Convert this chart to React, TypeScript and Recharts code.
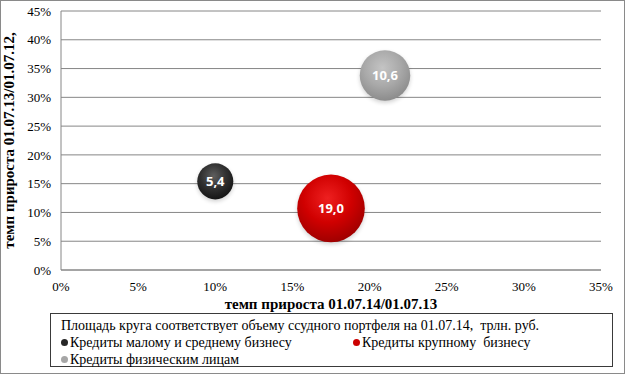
import React from "react"
import {
  ScatterChart,
  Scatter,
  XAxis,
  YAxis,
  ZAxis,
  CartesianGrid,
} from "recharts"

const categories = [
  "Кредиты малому и среднему бизнесу",
  "Кредиты крупному  бизнесу",
  "Кредиты физическим лицам",
]
// темп прироста 01.07.14/01.07.13, %
const growthX = [10.0, 17.5, 21.0]
// темп прироста 01.07.13/01.07.12, %
const growthY = [15.4, 10.7, 33.8]
// объем ссудного портфеля на 01.07.14, трлн. руб.
const volume = [5.4, 19.0, 10.6]
const xTicks = [0, 5, 10, 15, 20, 25, 30, 35]
const yTicks = [0, 5, 10, 15, 20, 25, 30, 35, 40, 45]

const colors = [
  { id: "gDark", light: "#5e5e5e", mid: "#303030", dark: "#151515", dot: "#262626" },
  { id: "gRed", light: "#ee2020", mid: "#d00000", dark: "#a00000", dot: "#cc0000" },
  { id: "gGrey", light: "#c4c4c4", mid: "#a9a9a9", dark: "#8c8c8c", dot: "#a6a6a6" },
]

const serif = '"Liberation Serif", "Times New Roman", serif'

const fmt = (v: number) => v.toFixed(1).replace(".", ",")

function Bubble(props: any) {
  const { cx, cy, width, payload, gid } = props
  const r = width / 2
  return (
    <g>
      <circle cx={cx} cy={cy + 2} r={r} fill="#000" opacity={0.18} filter="url(#blur)" />
      <circle cx={cx} cy={cy} r={r} fill={`url(#${gid})`} />
      <text
        x={cx}
        y={cy}
        dy="0.35em"
        textAnchor="middle"
        fill="#fff"
        fontFamily='"Open Sans", "DejaVu Sans", sans-serif'
        fontWeight={700}
        fontSize={13}
      >
        {fmt(payload.z)}
      </text>
    </g>
  )
}

function LegendDot({ color }: { color: string }) {
  return (
    <span
      style={{
        display: "inline-block",
        width: 7,
        height: 7,
        borderRadius: "50%",
        background: color,
        marginRight: 2,
        verticalAlign: "1px",
      }}
    />
  )
}

export default function App() {
  const series = categories.map((name, i) => ({
    name,
    data: [{ x: growthX[i], y: growthY[i], z: volume[i] }],
  }))

  return (
    <div
      style={{
        position: "absolute",
        left: 0,
        top: 0,
        width: 623,
        height: 372,
        border: "1px solid #8a8a8a",
        background: "#fff",
        fontFamily: serif,
      }}
    >
      <div style={{ position: "absolute", left: -1, top: -1 }}>
        <ScatterChart
          width={625}
          height={374}
          margin={{ top: 11, right: 24, bottom: 59, left: 0 }}
        >
          <defs>
            {colors.map((c) => (
              <radialGradient key={c.id} id={c.id} cx="45%" cy="35%" r="65%">
                <stop offset="0%" stopColor={c.light} />
                <stop offset="55%" stopColor={c.mid} />
                <stop offset="100%" stopColor={c.dark} />
              </radialGradient>
            ))}
            <filter id="blur" x="-20%" y="-20%" width="140%" height="140%">
              <feGaussianBlur stdDeviation="2" />
            </filter>
          </defs>
          <CartesianGrid vertical={false} stroke="#868686" />
          <XAxis
            type="number"
            dataKey="x"
            domain={[0, 35]}
            ticks={xTicks}
            tickFormatter={(v) => `${v}%`}
            axisLine={{ stroke: "#868686" }}
            tickLine={false}
            tickSize={0}
            tickMargin={12}
            height={45}
            tick={{ fontFamily: serif, fontSize: 13, fill: "#000" }}
            label={{
              value: "темп прироста 01.07.14/01.07.13",
              position: "insideBottom",
              offset: 6,
              style: { fontFamily: serif, fontSize: 15, fontWeight: 700, fill: "#000" },
            }}
          />
          <YAxis
            type="number"
            dataKey="y"
            domain={[0, 45]}
            ticks={yTicks}
            tickFormatter={(v) => `${v}%`}
            axisLine={{ stroke: "#868686" }}
            tickLine={false}
            tickSize={0}
            tickMargin={10}
            width={61}
            tick={{ fontFamily: serif, fontSize: 13, fill: "#000" }}
            label={{
              value: "темп прироста 01.07.13/01.07.12,",
              angle: -90,
              position: "insideLeft",
              offset: 9,
              style: {
                textAnchor: "middle",
                fontFamily: serif,
                fontSize: 15,
                fontWeight: 700,
                fill: "#000",
              },
            }}
          />
          <ZAxis type="number" dataKey="z" domain={[0, 19]} range={[0, 3590]} />
          {series.map((s, i) => (
            <Scatter
              key={s.name}
              name={s.name}
              data={s.data}
              isAnimationActive={false}
              shape={(p: any) => <Bubble {...p} gid={colors[i].id} />}
            />
          ))}
        </ScatterChart>
      </div>
      <div
        style={{
          position: "absolute",
          left: 49,
          top: 312,
          width: 563,
          height: 54,
          border: "1px solid #3a3a3a",
          fontSize: 14,
          lineHeight: "17px",
          padding: "3px 0 0 10px",
          boxSizing: "border-box",
          color: "#000",
          whiteSpace: "nowrap",
        }}
      >
        <div>Площадь круга соответствует объему ссудного портфеля на 01.07.14,&nbsp; трлн. руб.</div>
        <div>
          <span style={{ display: "inline-block", width: 292 }}>
            <LegendDot color={colors[0].dot} />
            {categories[0]}
          </span>
          <LegendDot color={colors[1].dot} />
          {categories[1].replace("  ", "\u00a0 ")}
        </div>
        <div>
          <LegendDot color={colors[2].dot} />
          {categories[2]}
        </div>
      </div>
    </div>
  )
}
